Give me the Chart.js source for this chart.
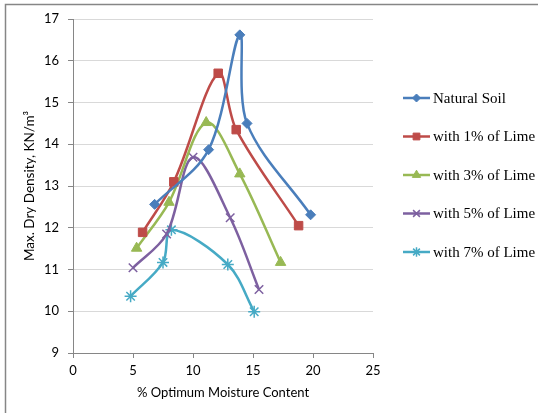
<!DOCTYPE html>
<html>
<head>
<meta charset="utf-8">
<script src="https://cdn.jsdelivr.net/npm/chart.js@4.4.1/dist/chart.umd.min.js"></script>
<style>
    html, body { margin: 0; padding: 0; background: #fff; }
    #wrap { position: relative; width: 538px; height: 413px; }
</style>
</head>
<body>
<div id="wrap"><canvas id="densityChart" width="538" height="413"></canvas></div>
<script>
// ==========================================
// Data
// ==========================================
const seriesNames = ['Natural Soil', 'with 1% of Lime', 'with 3% of Lime', 'with 5% of Lime', 'with 7% of Lime'];

const naturalX = [6.8, 11.3, 13.9, 14.5, 19.8];
const naturalY = [12.56, 13.87, 16.62, 14.5, 12.31];

const lime1X = [5.8, 8.4, 12.1, 13.6, 18.8];
const lime1Y = [11.89, 13.1, 15.7, 14.35, 12.05];

const lime3X = [5.3, 8.0, 11.1, 13.9, 17.3];
const lime3Y = [11.51, 12.61, 14.52, 13.29, 11.17];

const lime5X = [5.0, 7.8, 10.0, 13.1, 15.5];
const lime5Y = [11.04, 11.85, 13.69, 12.24, 10.52];

const lime7X = [4.8, 7.5, 8.2, 12.9, 15.1];
const lime7Y = [10.36, 11.17, 11.95, 11.12, 9.99];

const xTicks = [0, 5, 10, 15, 20, 25];
const yTicks = [9, 10, 11, 12, 13, 14, 15, 16, 17];

const colors = ['#4A7EBB', '#BE4B48', '#98B954', '#7D60A0', '#46AAC5'];
const markers = ['rectRot', 'rect', 'triangle', 'crossRot', 'star'];
const markerSizes = [5, 6, 6, 6, 6];

const AXIS_GRAY = '#868686';
const GRID_GRAY = '#D9D9D9';

function toPoints(xs, ys) {
    return xs.map((x, i) => ({ x: x, y: ys[i] }));
}

const seriesData = [
    toPoints(naturalX, naturalY),
    toPoints(lime1X, lime1Y),
    toPoints(lime3X, lime3Y),
    toPoints(lime5X, lime5Y),
    toPoints(lime7X, lime7Y)
];

const datasets = seriesNames.map((name, i) => {
    const isLineMarker = markers[i] === 'crossRot' || markers[i] === 'star';
    return {
        label: name,
        data: seriesData[i],
        showLine: true,
        tension: 0.34,
        borderColor: colors[i],
        backgroundColor: colors[i],
        borderWidth: 2.5,
        pointStyle: markers[i],
        pointRadius: markerSizes[i],
        pointHoverRadius: markerSizes[i],
        pointBorderColor: colors[i],
        pointBackgroundColor: colors[i],
        pointBorderWidth: isLineMarker ? 1.5 : 1
    };
});

// ==========================================
// Plugins: outer frame and Excel-style legend
// ==========================================
const framePlugin = {
    id: 'frame',
    beforeDraw(chart) {
        const ctx = chart.ctx;
        ctx.save();
        ctx.fillStyle = '#fff';
        ctx.fillRect(0, 0, chart.width, chart.height);
        ctx.strokeStyle = AXIS_GRAY;
        ctx.lineWidth = 1.5;
        ctx.beginPath();
        ctx.moveTo(5.5, chart.height);
        ctx.lineTo(5.5, 4.5);
        ctx.lineTo(chart.width, 4.5);
        ctx.stroke();
        ctx.restore();
    }
};

const legendPlugin = {
    id: 'sideLegend',
    afterDraw(chart) {
        const ctx = chart.ctx;
        const lineStart = 403, lineEnd = 430, textX = 433;
        const firstY = 98, gap = 38.5;
        ctx.save();
        ctx.font = '15px "Liberation Serif", "Times New Roman", serif';
        ctx.textBaseline = 'middle';
        ctx.textAlign = 'left';
        chart.data.datasets.forEach((ds, i) => {
            const y = firstY + i * gap;
            ctx.strokeStyle = ds.borderColor;
            ctx.lineWidth = ds.borderWidth;
            ctx.beginPath();
            ctx.moveTo(lineStart, y);
            ctx.lineTo(lineEnd, y);
            ctx.stroke();

            ctx.fillStyle = ds.pointBackgroundColor;
            ctx.strokeStyle = ds.pointBorderColor;
            ctx.lineWidth = ds.pointBorderWidth;
            Chart.helpers.drawPoint(ctx, {
                pointStyle: ds.pointStyle,
                radius: ds.pointRadius * 0.8,
                rotation: 0,
                borderWidth: ds.pointBorderWidth
            }, (lineStart + lineEnd) / 2, y);

            ctx.fillStyle = '#000';
            ctx.fillText(ds.label, textX, y + 1);
        });
        ctx.restore();
    }
};

// ==========================================
// Chart
// ==========================================
const tickFont = { family: 'Lato, "Noto Sans", sans-serif', size: 13 };
const titleFont = { family: 'Lato, "Noto Sans", sans-serif', size: 13.5 };

new Chart(document.getElementById('densityChart'), {
    type: 'scatter',
    data: { datasets: datasets },
    plugins: [framePlugin, legendPlugin],
    options: {
        responsive: false,
        animation: false,
        layout: { padding: { left: 0, right: 165, top: 19, bottom: 0 } },
        plugins: {
            legend: { display: false },
            tooltip: { enabled: false }
        },
        scales: {
            x: {
                type: 'linear',
                min: xTicks[0],
                max: xTicks[xTicks.length - 1],
                afterBuildTicks: (scale) => { scale.ticks = xTicks.map(v => ({ value: v })); },
                afterFit: (scale) => { scale.height = 60; },
                ticks: { color: '#000', font: tickFont, padding: 5, maxRotation: 0 },
                grid: { drawOnChartArea: false, drawTicks: true, tickLength: 5, color: AXIS_GRAY },
                border: { color: AXIS_GRAY, width: 1 },
                title: {
                    display: true,
                    text: '% Optimum Moisture Content',
                    color: '#000',
                    font: tickFont,
                    padding: { top: 0, bottom: 12 }
                }
            },
            y: {
                type: 'linear',
                min: yTicks[0],
                max: yTicks[yTicks.length - 1],
                afterBuildTicks: (scale) => { scale.ticks = yTicks.map(v => ({ value: v })); },
                afterFit: (scale) => { scale.width = 73; },
                ticks: { color: '#000', font: tickFont, padding: 9 },
                grid: { color: GRID_GRAY, tickColor: AXIS_GRAY, tickLength: 5 },
                border: { color: AXIS_GRAY, width: 1 },
                title: {
                    display: true,
                    text: 'Max. Dry Density, KN/m³',
                    color: '#000',
                    font: titleFont,
                    padding: { top: 22, bottom: 0 }
                }
            }
        }
    }
});
</script>
</body>
</html>
